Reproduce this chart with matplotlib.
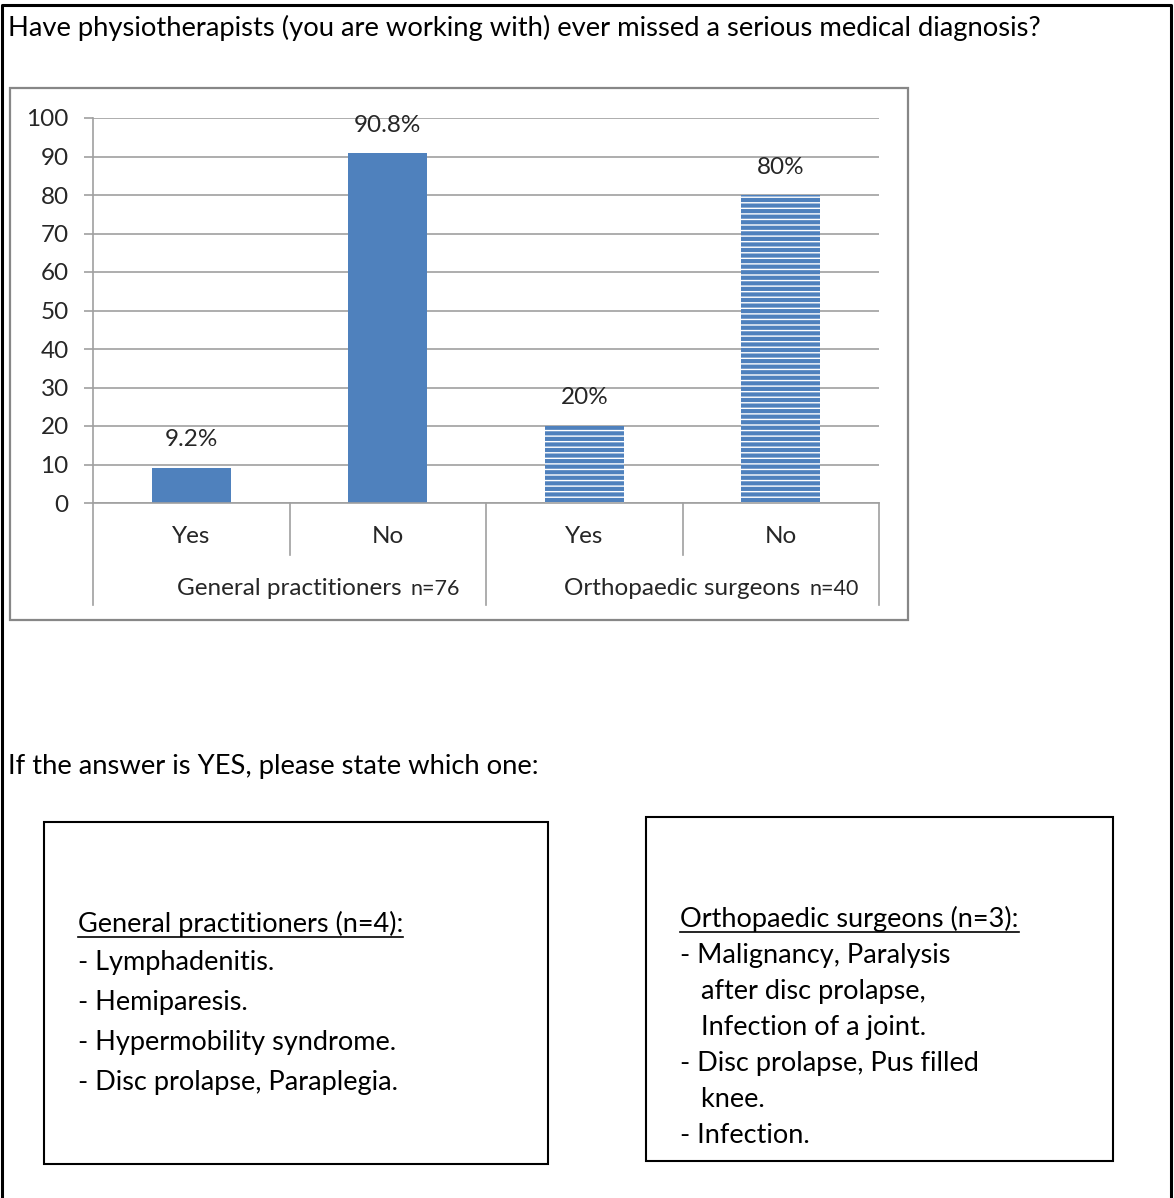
import numpy as np
import matplotlib
matplotlib.use("Agg")
import matplotlib.pyplot as plt
from matplotlib.patches import Rectangle
from matplotlib.lines import Line2D

plt.rcParams['font.family'] = ['Lato', 'DejaVu Sans']
plt.rcParams['hatch.linewidth'] = 1.0

# survey answers, percent of respondents
categories = ['Yes', 'No', 'Yes', 'No']
groups = ['General practitioners', 'Orthopaedic surgeons']
group_n = ['n=76', 'n=40']
values = [9.2, 90.8, 20, 80]
value_labels = ['9.2%', '90.8%', '20%', '80%']
yticks = [0, 10, 20, 30, 40, 50, 60, 70, 80, 90, 100]

question = "Have physiotherapists (you are working with) ever missed a serious medical diagnosis?"
followup = "If the answer is YES, please state which one:"
gp_title = "General practitioners (n=4):"
gp_lines = ["- Lymphadenitis.", "- Hemiparesis.", "- Hypermobility syndrome.",
            "- Disc prolapse, Paraplegia."]
os_title = "Orthopaedic surgeons (n=3):"
os_lines = ["- Malignancy, Paralysis", "   after disc prolapse,", "   Infection of a joint.",
            "- Disc prolapse, Pus filled", "   knee.", "- Infection."]

W, H = 1174, 1198
BLUE = '#4F81BD'
GRID = '#A0A0A0'
TXT = '#262626'
FS_CHART = 17.5
FS_BOX = 19.5
FS_PAGE = 19.7

fig = plt.figure(figsize=(W / 100, H / 100), dpi=100)


def fx(px):
    return px / W


def fy(py):
    return 1 - py / H


# page frame (open at the bottom)
fig.add_artist(Line2D([fx(1.5), fx(1.5), fx(1170.5), fx(1170.5)],
                      [fy(H), fy(5), fy(5), fy(H)], color='black', lw=2.2))

# chart frame
fig.add_artist(Rectangle((fx(10), fy(620)), fx(898), (620 - 88) / H,
                         fill=False, edgecolor='#878787', lw=1.6))

ax = fig.add_axes([fx(93), fy(503), fx(879 - 93), (503 - 118) / H])
x = np.arange(len(values))
ax.bar(x[:2], values[:2], width=0.4, color=BLUE, zorder=3)
ax.bar(x[2:], values[2:], width=0.4, facecolor=BLUE, edgecolor='white',
       lw=0, hatch='---', zorder=3)

for xi, v, lab in zip(x, values, value_labels):
    ax.annotate(lab, (xi, v), xytext=(0, 28), textcoords='offset pixels',
                ha='center', va='center', fontsize=FS_CHART, color=TXT)

ax.set_xlim(-0.5, 3.5)
ax.set_ylim(0, 100)
ax.set_yticks(yticks)
ax.set_xticks([])
ax.yaxis.grid(True, color=GRID, lw=1.2, zorder=0)
ax.tick_params(axis='y', length=6.5, width=1.2, color=GRID, pad=11,
               labelsize=FS_CHART, labelcolor=TXT)
for s in ['top', 'right', 'bottom']:
    ax.spines[s].set_visible(False)
ax.spines['left'].set_color(GRID)
ax.spines['left'].set_linewidth(1.2)

# category axis with two levels
tr = ax.get_xaxis_transform()
ax.plot([-0.5, 3.5], [0, 0], transform=tr, color=GRID, lw=1.2, clip_on=False, zorder=4)
for xb in [-0.5, 1.5, 3.5]:
    ax.plot([xb, xb], [0, -0.265], transform=tr, color=GRID, lw=1.2, clip_on=False)
for xb in [0.5, 2.5]:
    ax.plot([xb, xb], [0, -0.135], transform=tr, color=GRID, lw=1.2, clip_on=False)
for xi, cat in zip(x, categories):
    ax.text(xi, -0.088, cat, transform=tr, ha='center', va='center',
            fontsize=FS_CHART, color=TXT)
for gi, (g, n) in enumerate(zip(groups, group_n)):
    t = ax.text(2 * gi + 0.5, -0.223, g, transform=tr, ha='center', va='center',
                fontsize=FS_CHART, color=TXT)
    ax.annotate(n, xy=(1, 0.5), xycoords=t, xytext=(9, 0), textcoords='offset pixels',
                ha='left', va='center', fontsize=15.5, color=TXT)

# question texts
fig.text(fx(8), fy(36), question, fontsize=FS_PAGE, color='black', va='baseline')
fig.text(fx(8), fy(774), followup, fontsize=FS_PAGE, color='black', va='baseline')

# answer boxes
fig.add_artist(Rectangle((fx(44), fy(1164)), fx(548 - 44), (1164 - 822) / H,
                         fill=False, edgecolor='black', lw=1.5))
fig.add_artist(Rectangle((fx(646), fy(1161)), fx(1113 - 646), (1161 - 817) / H,
                         fill=False, edgecolor='black', lw=1.5))

heads = []
heads.append(fig.text(fx(78), fy(932), gp_title, fontsize=FS_BOX, va='baseline'))
for i, line in enumerate(gp_lines):
    fig.text(fx(78), fy(970 + 40 * i), line, fontsize=FS_BOX, va='baseline')
heads.append(fig.text(fx(680), fy(927), os_title, fontsize=FS_BOX, va='baseline'))
for i, line in enumerate(os_lines):
    fig.text(fx(680), fy(963 + 36 * i), line, fontsize=FS_BOX, va='baseline')

# underline the box headings
fig.canvas.draw()
renderer = fig.canvas.get_renderer()
for t in heads:
    bb = t.get_window_extent(renderer)
    base_y = t.get_position()[1] * H - 5
    fig.add_artist(Line2D([bb.x0 / W, bb.x1 / W], [base_y / H, base_y / H],
                          color='black', lw=1.2))

fig.savefig('out.png', dpi=100)
